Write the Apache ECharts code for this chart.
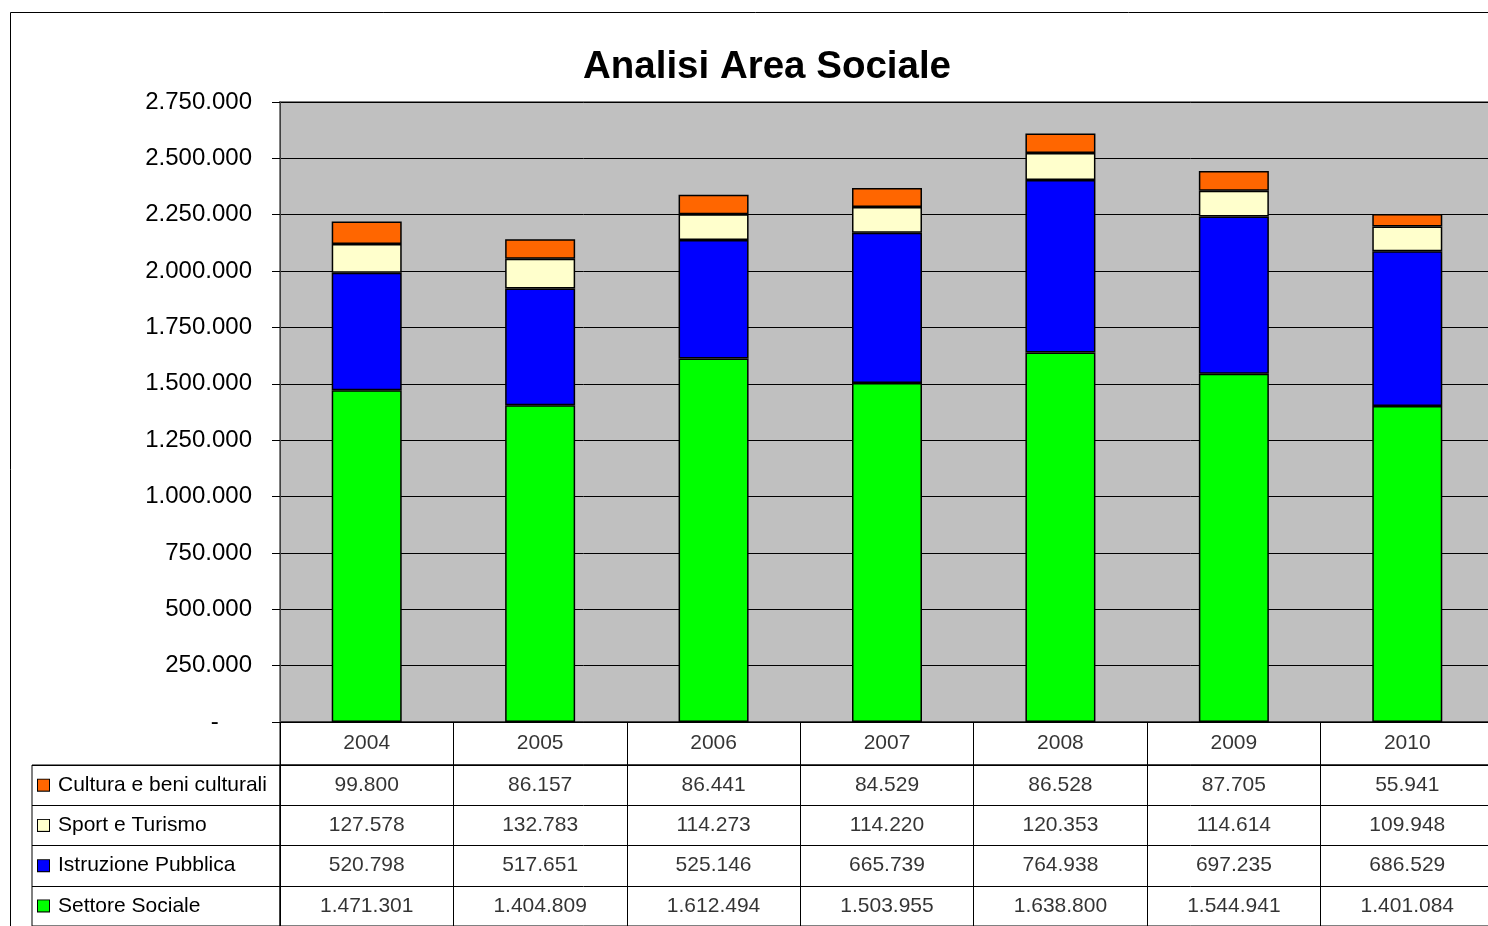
<!DOCTYPE html>
<html>
<head>
<meta charset="utf-8">
<script src="https://cdn.jsdelivr.net/npm/echarts@6/dist/echarts.min.js"></script>
<style>
  html, body { margin: 0; padding: 0; background: #fff; overflow: hidden; }
  #chart { width: 1500px; height: 926px; }
</style>
</head>
<body>
<div id="chart"></div>
<script>
// 数据
const years = ["2004", "2005", "2006", "2007", "2008", "2009", "2010"];
const seriesNames = ["Cultura e beni culturali", "Sport e Turismo", "Istruzione Pubblica", "Settore Sociale"];
const cultura = [99800, 86157, 86441, 84529, 86528, 87705, 55941];
const sport = [127578, 132783, 114273, 114220, 120353, 114614, 109948];
const istruzione = [520798, 517651, 525146, 665739, 764938, 697235, 686529];
const settore = [1471301, 1404809, 1612494, 1503955, 1638800, 1544941, 1401084];
const colors = ["#ff6600", "#ffffcc", "#0000ff", "#00ff00"];

const FONT = "Liberation Sans";

// 数字格式：意大利千位分隔
function fmt(n) {
  return String(n).replace(/\B(?=(\d{3})+(?!\d))/g, ".");
}

// 表格数据：[年份, 行, 文本]
const rowValues = [cultura, sport, istruzione, settore];
const headerData = years.map((y) => [y, "h", y]);
const tableData = [];
years.forEach((y, i) => {
  rowValues.forEach((arr, r) => {
    tableData.push([y, seriesNames[r], fmt(arr[i])]);
  });
});

// 图例方块
const rich = { t: { fontSize: 21, fontFamily: FONT, color: "#000", padding: [0, 0, 0, 9] } };
colors.forEach((c, i) => {
  rich["b" + i] = { width: 11, height: 11, backgroundColor: c, borderColor: "#000", borderWidth: 1 };
});

const cellLabel = {
  show: true,
  position: "inside",
  fontSize: 21,
  fontFamily: FONT,
  color: "#000",
  formatter: (p) => p.data[2],
};
const lineStyle = { color: "#000", width: 1 };

let myChart = echarts.init(document.getElementById("chart"));
let option = {
  animation: false,
  title: {
    text: "Analisi Area Sociale",
    left: 762,
    top: 43,
    textAlign: "center",
    textStyle: { fontFamily: FONT, fontSize: 38.5, fontWeight: "bold", color: "#000" },
  },
  graphic: [
    {
      type: "rect",
      shape: { x: 10.5, y: 12.5, width: 1600, height: 1000 },
      style: { fill: "none", stroke: "#000", lineWidth: 1 },
      silent: true,
    },
  ],
  grid: [
    // 主图
    { left: 280, top: 102, width: 1214, height: 620, show: true, backgroundColor: "#c0c0c0", borderColor: "#808080", borderWidth: 2 },
    // 表头（年份）
    { left: 280, top: 722, width: 1214, height: 43, show: true, backgroundColor: "transparent", borderColor: "#000", borderWidth: 1 },
    // 表格数值
    { left: 280, top: 765, width: 1214, height: 161, show: true, backgroundColor: "transparent", borderColor: "#000", borderWidth: 1 },
    // 图例列
    { left: 32, top: 765, width: 248, height: 161, show: true, backgroundColor: "transparent", borderColor: "#000", borderWidth: 1 },
  ],
  xAxis: [
    {
      gridIndex: 0,
      type: "category",
      data: years,
      axisLine: { lineStyle: { color: "#000", width: 1 } },
      axisTick: { show: false },
      axisLabel: { show: false },
    },
    {
      gridIndex: 1,
      type: "category",
      data: years,
      axisLine: { show: false },
      axisTick: { show: false },
      axisLabel: { show: false },
      splitLine: { show: true, interval: 0, lineStyle: lineStyle },
    },
    {
      gridIndex: 2,
      type: "category",
      data: years,
      axisLine: { show: false },
      axisTick: { show: false },
      axisLabel: { show: false },
      splitLine: { show: true, interval: 0, lineStyle: lineStyle },
    },
    {
      gridIndex: 3,
      type: "value",
      show: false,
    },
  ],
  yAxis: [
    {
      gridIndex: 0,
      type: "value",
      min: 0,
      max: 2750000,
      interval: 250000,
      axisLine: { show: true, lineStyle: { color: "#404040", width: 1 } },
      axisTick: { show: true, length: 8, lineStyle: { color: "#000" } },
      axisLabel: {
        margin: 28,
        fontSize: 24,
        fontFamily: FONT,
        color: "#000",
        formatter: (v) => (v === 0 ? "-     " : fmt(v)),
      },
      splitLine: { lineStyle: { color: "#000", width: 1 } },
    },
    {
      gridIndex: 1,
      type: "category",
      data: ["h"],
      show: false,
    },
    {
      gridIndex: 2,
      type: "category",
      inverse: true,
      data: seriesNames,
      axisLine: { show: false },
      axisTick: { show: false },
      axisLabel: { show: false },
      splitLine: { show: true, interval: 0, lineStyle: lineStyle },
    },
    {
      gridIndex: 3,
      type: "category",
      inverse: true,
      data: seriesNames,
      axisLine: { show: false },
      axisTick: { show: false },
      axisLabel: {
        inside: true,
        margin: 6,
        formatter: (val, idx) => "{b" + idx + "| }{t|" + val + "}",
        rich: rich,
      },
      splitLine: { show: true, interval: 0, lineStyle: lineStyle },
    },
  ],
  series: [
    { name: "Settore Sociale", data: settore, color: colors[3] },
    { name: "Istruzione Pubblica", data: istruzione, color: colors[2] },
    { name: "Sport e Turismo", data: sport, color: colors[1] },
    { name: "Cultura e beni culturali", data: cultura, color: colors[0] },
  ].map((s) => ({
    name: s.name,
    type: "bar",
    stack: "tot",
    xAxisIndex: 0,
    yAxisIndex: 0,
    barWidth: 70,
    data: s.data,
    itemStyle: { color: s.color, borderColor: "#000", borderWidth: 1.5 },
  })).concat([
    {
      type: "scatter",
      xAxisIndex: 1,
      yAxisIndex: 1,
      symbolSize: 0,
      data: headerData,
      label: cellLabel,
    },
    {
      type: "scatter",
      xAxisIndex: 2,
      yAxisIndex: 2,
      symbolSize: 0,
      data: tableData,
      label: cellLabel,
    },
  ]),
};

myChart.setOption(option);
window.addEventListener("resize", function () {
  myChart.resize();
});
</script>
</body>
</html>
